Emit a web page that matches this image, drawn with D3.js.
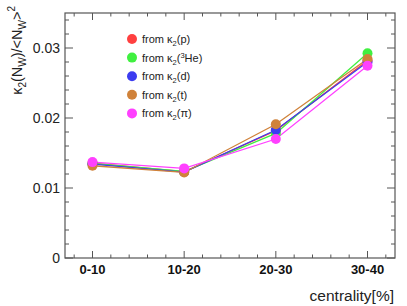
<!DOCTYPE html>
<html lang="en">
<head>
<meta charset="UTF-8">
<title>kappa2 vs centrality</title>
<script src="https://d3js.org/d3.v7.min.js"></script>
<style>
  body { margin: 0; background: #fff; }
  text { font-family: "Liberation Sans", Arial, sans-serif; }
</style>
</head>
<body>
<script>

// categories and x positions (bin centres)
var categories = ["0-10", "10-20", "20-30", "30-40"];
var xCentres = [5, 15, 25, 35];

// series values
var fromP   = [0.01355, 0.01232, 0.01820, 0.02820];
var fromHe3 = [0.01350, 0.01236, 0.01780, 0.02924];
var fromD   = [0.01340, 0.01228, 0.01829, 0.02800];
var fromT   = [0.01318, 0.01222, 0.01910, 0.02843];
var fromPi  = [0.01370, 0.01280, 0.01700, 0.02747];

var yTicks = [0, 0.01, 0.02, 0.03];
var yTickLabels = ["0", "0.01", "0.02", "0.03"];

var series = [
  {name: "p",   sup: null, values: fromP,   color: "#ff4040"},
  {name: "He)", sup: "3",  values: fromHe3, color: "#40f040"},
  {name: "d",   sup: null, values: fromD,   color: "#3c3cf0"},
  {name: "t",   sup: null, values: fromT,   color: "#d0823a"},
  {name: "π",   sup: null, values: fromPi,  color: "#ff40ff"}
];

var W = 407, H = 306;
var margin = {top: 13, right: 12, bottom: 48, left: 65},
    width = W - margin.left - margin.right,
    height = H - margin.top - margin.bottom;

var svg = d3.select("body").append("svg")
    .attr("width", W)
    .attr("height", H);

var g = svg.append("g")
    .attr("transform", "translate(" + margin.left + "," + margin.top + ")");

var x = d3.scaleLinear().domain([2, 38]).range([0, width]);
var y = d3.scaleLinear().domain([0, 0.035]).range([height, 0]);

var axisColor = "#555";

// frame
g.append("rect")
    .attr("width", width)
    .attr("height", height)
    .attr("fill", "none")
    .attr("stroke", axisColor)
    .attr("stroke-width", 1.2);

// y ticks (left and mirrored right)
var yMinor = d3.range(0, 0.0351, 0.002);
g.selectAll(".ytick")
  .data(yMinor)
  .enter().append("line")
    .attr("x1", 0)
    .attr("x2", function(d) { return isMajorY(d) ? 8 : 4; })
    .attr("y1", function(d) { return y(d); })
    .attr("y2", function(d) { return y(d); })
    .attr("stroke", axisColor);
g.selectAll(".ytickr")
  .data(yMinor)
  .enter().append("line")
    .attr("x1", width)
    .attr("x2", function(d) { return width - (isMajorY(d) ? 8 : 4); })
    .attr("y1", function(d) { return y(d); })
    .attr("y2", function(d) { return y(d); })
    .attr("stroke", axisColor);

function isMajorY(d) {
  return Math.abs(d * 100 - Math.round(d * 100)) < 1e-6;
}

g.selectAll(".ylab")
  .data(yTicks)
  .enter().append("text")
    .attr("x", -5)
    .attr("y", function(d) { return y(d); })
    .attr("dy", "0.36em")
    .attr("text-anchor", "end")
    .attr("font-size", 14)
    .attr("fill", "#222")
    .text(function(d, i) { return yTickLabels[i]; });

// x ticks (bottom and mirrored top)
var xMinor = d3.range(3, 38, 2);
g.selectAll(".xtick")
  .data(xMinor)
  .enter().append("line")
    .attr("x1", function(d) { return x(d); })
    .attr("x2", function(d) { return x(d); })
    .attr("y1", height)
    .attr("y2", function(d) { return height - (xCentres.indexOf(d) >= 0 ? 7 : 3.5); })
    .attr("stroke", axisColor);
g.selectAll(".xtickt")
  .data(xMinor)
  .enter().append("line")
    .attr("x1", function(d) { return x(d); })
    .attr("x2", function(d) { return x(d); })
    .attr("y1", 0)
    .attr("y2", function(d) { return xCentres.indexOf(d) >= 0 ? 7 : 3.5; })
    .attr("stroke", axisColor);

g.selectAll(".xlab")
  .data(categories)
  .enter().append("text")
    .attr("x", function(d, i) { return x(xCentres[i]); })
    .attr("y", height + 16)
    .attr("text-anchor", "middle")
    .attr("font-size", 13)
    .attr("font-weight", "bold")
    .attr("fill", "#111")
    .text(function(d) { return d; });

// x title
svg.append("text")
    .attr("x", W - 13)
    .attr("y", H - 5)
    .attr("text-anchor", "end")
    .attr("font-size", 15.5)
    .attr("fill", "#222")
    .text("centrality[%]");

// y title with sub/superscripts
var yt = svg.append("text")
    .attr("transform", "translate(22,6) rotate(-90)")
    .attr("text-anchor", "end")
    .attr("font-size", 14.5)
    .attr("fill", "#222");
yt.append("tspan").text("κ");
yt.append("tspan").attr("dy", 4).attr("font-size", 10).text("2");
yt.append("tspan").attr("dy", -4).text("(N");
yt.append("tspan").attr("dy", 4).attr("font-size", 10).text("W");
yt.append("tspan").attr("dy", -4).text(")/<N");
yt.append("tspan").attr("dy", 4).attr("font-size", 10).text("W");
yt.append("tspan").attr("dy", -4).text(">");
yt.append("tspan").attr("dy", -7).attr("font-size", 10).text("2");

// lines
var line = d3.line()
    .x(function(d, i) { return x(xCentres[i]); })
    .y(function(d) { return y(d); });

g.selectAll(".series")
  .data(series)
  .enter().append("path")
    .attr("d", function(d) { return line(d.values); })
    .attr("fill", "none")
    .attr("stroke", function(d) { return d.color; })
    .attr("stroke-width", 1.3);

// markers
var mk = g.selectAll(".mk")
  .data(series)
  .enter().append("g")
    .attr("fill", function(d) { return d.color; });
mk.selectAll("circle")
  .data(function(d) { return d.values; })
  .enter().append("circle")
    .attr("cx", function(d, i) { return x(xCentres[i]); })
    .attr("cy", function(d) { return y(d); })
    .attr("r", 5);

// legend
var leg = svg.append("g").attr("transform", "translate(132,39)");
var rows = leg.selectAll("g")
  .data(series)
  .enter().append("g")
    .attr("transform", function(d, i) { return "translate(0," + (i * 18.6) + ")"; });
rows.append("circle")
    .attr("r", 5)
    .attr("fill", function(d) { return d.color; });
rows.each(function(d) {
  var t = d3.select(this).append("text")
      .attr("x", 10)
      .attr("y", 4)
      .attr("font-size", 11)
      .attr("fill", "#222");
  t.append("tspan").text("from κ");
  t.append("tspan").attr("dy", 3).attr("font-size", 7.5).text("2");
  if (d.sup) {
    t.append("tspan").attr("dy", -3).text("(");
    t.append("tspan").attr("dy", -4).attr("font-size", 7.5).text(d.sup);
    t.append("tspan").attr("dy", 4).text(d.name);
  } else {
    t.append("tspan").attr("dy", -3).text("(" + d.name + ")");
  }
});

</script>
</body>
</html>
